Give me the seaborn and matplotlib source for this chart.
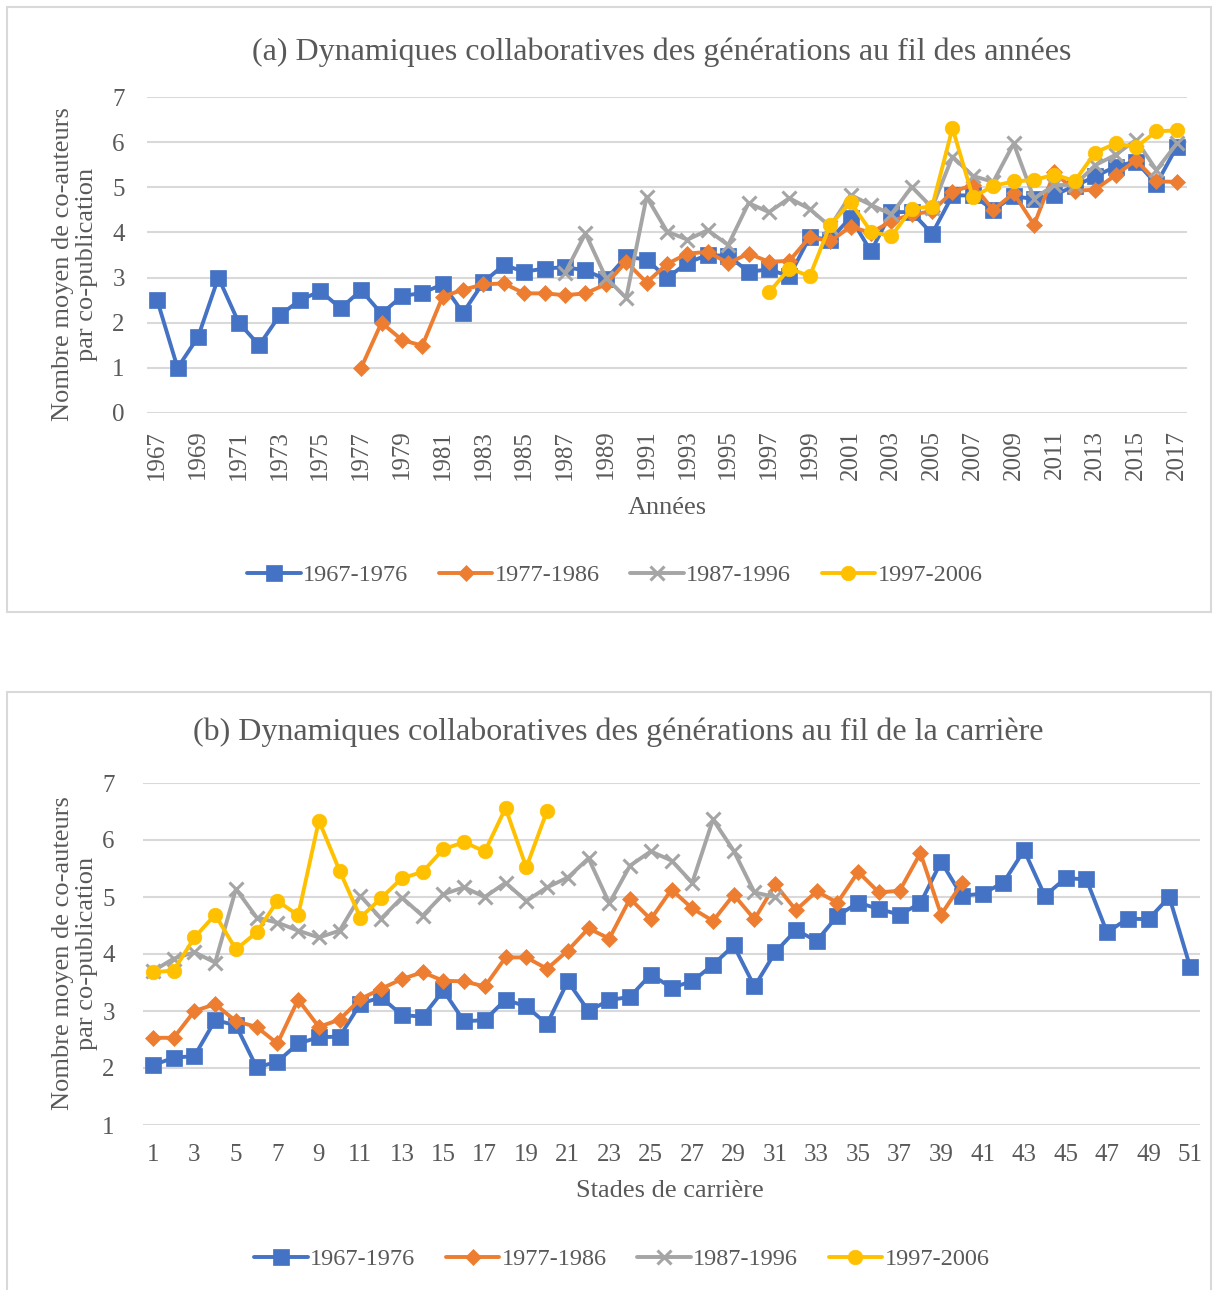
import numpy as np
import pandas as pd
import matplotlib
matplotlib.use("Agg")
import matplotlib.pyplot as plt
import seaborn as sns
from matplotlib.patches import Rectangle

# --- data ---
generations = ["1967-1976", "1977-1986", "1987-1996", "1997-2006"]

years = list(range(1967, 2018))
a_start = [1967, 1977, 1987, 1997]
a_1967 = [2.50, 1.00, 1.68, 3.00, 2.00, 1.50, 2.16, 2.50, 2.70, 2.32,
          2.72, 2.20, 2.59, 2.66, 2.85, 2.22, 2.90, 3.28, 3.13, 3.20,
          3.23, 3.16, 2.96, 3.46, 3.40, 2.99, 3.33, 3.50, 3.48, 3.13,
          3.18, 3.03, 3.90, 3.84, 4.33, 3.58, 4.45, 4.45, 3.97, 4.82,
          4.82, 4.50, 4.80, 4.74, 4.83, 5.03, 5.24, 5.46, 5.57, 5.07,
          5.90]
a_1977 = [1.00, 2.00, 1.62, 1.49, 2.58, 2.73, 2.85, 2.87, 2.65, 2.65,
          2.61, 2.65, 2.85, 3.35, 2.89, 3.30, 3.53, 3.57, 3.32, 3.53,
          3.35, 3.37, 3.90, 3.80, 4.13, 3.99, 4.25, 4.40, 4.47, 4.90,
          5.05, 4.50, 4.87, 4.17, 5.33, 4.92, 4.95, 5.27, 5.60, 5.13,
          5.12]
a_1987 = [3.10, 3.98, 3.00, 2.55, 4.79, 4.02, 3.84, 4.05, 3.72, 4.65,
          4.45, 4.76, 4.52, 4.13, 4.83, 4.61, 4.40, 5.01, 4.55, 5.68,
          5.25, 5.12, 5.97, 4.75, 5.05, 5.05, 5.49, 5.72, 6.05, 5.38,
          5.97]
a_1997 = [2.67, 3.20, 3.03, 4.16, 4.67, 4.02, 3.91, 4.53, 4.57, 6.31,
          4.78, 5.03, 5.13, 5.16, 5.28, 5.14, 5.77, 5.97, 5.89, 6.24,
          6.26]

stages = list(range(1, 52))
b_1967 = [2.05, 2.18, 2.21, 2.84, 2.75, 2.01, 2.11, 2.43, 2.54, 2.55,
          3.13, 3.24, 2.93, 2.90, 3.36, 2.82, 2.84, 3.20, 3.08, 2.77,
          3.52, 3.00, 3.19, 3.25, 3.64, 3.41, 3.52, 3.81, 4.15, 3.43,
          4.03, 4.42, 4.23, 4.67, 4.90, 4.79, 4.69, 4.89, 5.62, 5.02,
          5.06, 5.25, 5.82, 5.02, 5.33, 5.31, 4.38, 4.62, 4.61, 5.00,
          3.78]
b_1977 = [2.53, 2.53, 3.00, 3.12, 2.82, 2.72, 2.43, 3.20, 2.72, 2.85,
          3.21, 3.39, 3.56, 3.68, 3.53, 3.52, 3.43, 3.94, 3.94, 3.74,
          4.06, 4.45, 4.27, 4.97, 4.61, 5.13, 4.80, 4.58, 5.04, 4.61,
          5.22, 4.77, 5.10, 4.90, 5.44, 5.08, 5.11, 5.77, 4.69, 5.24]
b_1987 = [3.70, 3.92, 4.03, 3.85, 5.14, 4.64, 4.55, 4.41, 4.29, 4.41,
          5.02, 4.62, 4.99, 4.67, 5.05, 5.17, 5.00, 5.25, 4.93, 5.17,
          5.34, 5.68, 4.89, 5.55, 5.80, 5.64, 5.25, 6.36, 5.81, 5.08,
          5.00]
b_1997 = [3.68, 3.71, 4.29, 4.69, 4.08, 4.38, 4.93, 4.68, 6.34, 5.46,
          4.64, 4.98, 5.33, 5.44, 5.84, 5.96, 5.80, 6.56, 5.52, 6.51]

# --- styling ---
colors = ["#4472C4", "#ED7D31", "#A5A5A5", "#FFC000"]
markers = ["s", "D", "x", "o"]
msizes = [11.0, 8.5, 10.5, 10.5]
txt = "#595959"
grid = "#D9D9D9"

sns.set_style("white")
plt.rcParams["font.family"] = ["Liberation Serif", "DejaVu Serif"]

W, H = 1213, 1290
fig = plt.figure(figsize=(W / 100, H / 100), dpi=100)


def fx(px):
    return px / W


def fy(py):
    return 1 - py / H


# panel frames
fig.patches.append(Rectangle((fx(7), fy(612)), fx(1204), (612 - 7) / H,
                             transform=fig.transFigure, fill=False,
                             edgecolor=grid, linewidth=1.5))
fig.patches.append(Rectangle((fx(7), fy(1300)), fx(1204), (1300 - 692) / H,
                             transform=fig.transFigure, fill=False,
                             edgecolor=grid, linewidth=1.5))


def draw(ax, xs_list, ys_list):
    for i, (xs, ys) in enumerate(zip(xs_list, ys_list)):
        df = pd.DataFrame({"x": xs, "y": ys})
        sns.lineplot(data=df, x="x", y="y", ax=ax, color=colors[i],
                     marker=markers[i], markersize=msizes[i],
                     markeredgecolor=colors[i], markerfacecolor=colors[i],
                     markeredgewidth=2.2 if markers[i] == "x" else 0.5,
                     linewidth=2.8, label=generations[i], legend=False)
    ax.grid(axis="y", color=grid, linewidth=1.5)
    ax.set_axisbelow(True)
    for s in ax.spines.values():
        s.set_visible(False)
    ax.tick_params(axis="both", length=0, colors=txt, labelsize=18)
    ax.set_xlabel("")
    ax.set_ylabel("")


# --- panel (a) ---
ax1 = fig.add_axes([fx(147), fy(413), fx(1187 - 147), (413 - 97) / H])
xa = [list(range(s, 2018)) for s in a_start]
draw(ax1, xa, [a_1967, a_1977, a_1987, a_1997])
ax1.set_xlim(1966.5, 2017.5)
ax1.set_ylim(0, 7)
ax1.set_yticks(range(0, 8))
ax1.set_xticks(years[::2])
ax1.set_xticklabels([str(y) for y in years[::2]], rotation=90)
ax1.tick_params(axis="x", pad=12)
ax1.tick_params(axis="y", pad=16)

fig.text(fx(662), fy(52), "(a) Dynamiques collaboratives des générations au fil des années",
         ha="center", va="center", fontsize=23, color=txt)
fig.text(fx(667), fy(508), "Années", ha="center", va="center", fontsize=19, color=txt)
fig.text(fx(75), fy(264), "Nombre moyen de co-auteurs\npar co-publication", rotation=90,
         ha="center", va="center", fontsize=19, color=txt, linespacing=1.1)
h, l = ax1.get_legend_handles_labels()
fig.legend(h, l, loc="center", bbox_to_anchor=(fx(615), fy(575)), ncol=4,
           frameon=False, fontsize=17.5, labelcolor=txt, handlelength=2.2,
           handletextpad=0.1, columnspacing=1.25, numpoints=1)

# --- panel (b) ---
ax2 = fig.add_axes([fx(142.6), fy(1125), fx(1200.4 - 142.6), (1125 - 783) / H])
xb = [stages[:len(v)] for v in [b_1967, b_1977, b_1987, b_1997]]
draw(ax2, xb, [b_1967, b_1977, b_1987, b_1997])
ax2.set_xlim(0.5, 51.5)
ax2.set_ylim(1, 7)
ax2.set_yticks(range(1, 8))
ax2.set_xticks(stages[::2])
ax2.tick_params(axis="x", pad=14)
ax2.tick_params(axis="y", pad=20)

fig.text(fx(618), fy(732), "(b) Dynamiques collaboratives des générations au fil de la carrière",
         ha="center", va="center", fontsize=23, color=txt)
fig.text(fx(670), fy(1191), "Stades de carrière", ha="center", va="center",
         fontsize=19, color=txt)
fig.text(fx(75), fy(953), "Nombre moyen de co-auteurs\npar co-publication", rotation=90,
         ha="center", va="center", fontsize=19, color=txt, linespacing=1.1)
h, l = ax2.get_legend_handles_labels()
fig.legend(h, l, loc="center", bbox_to_anchor=(fx(622), fy(1259)), ncol=4,
           frameon=False, fontsize=17.5, labelcolor=txt, handlelength=2.2,
           handletextpad=0.1, columnspacing=1.25, numpoints=1)

fig.savefig("out.png", dpi=100)
